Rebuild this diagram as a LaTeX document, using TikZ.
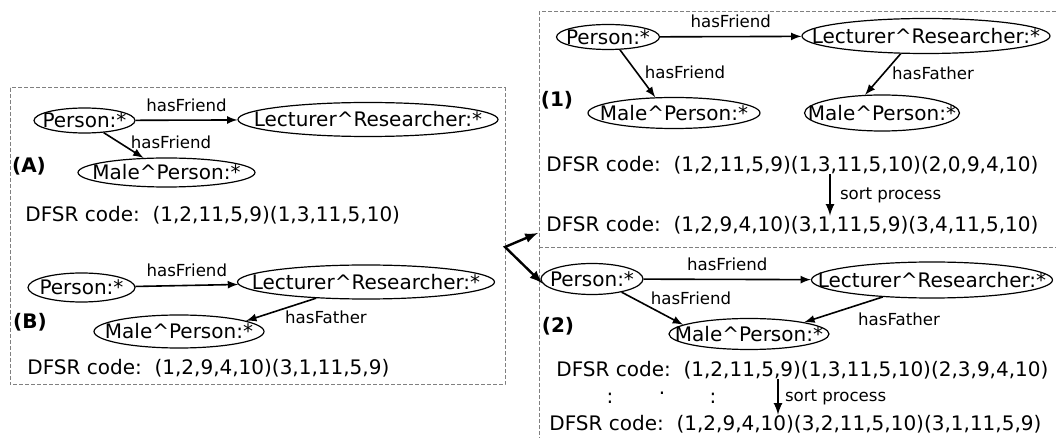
\documentclass[tikz,border=0pt]{standalone}
\usepackage{fontspec}
\setmainfont{DejaVu Sans}
\usetikzlibrary{shapes.geometric}
\newcommand{\ovl}[1]{\makebox[0pt]{#1}}

\begin{document}
\begin{tikzpicture}[
    x=0.5pt, y=-0.5pt,
    frame/.style = {draw=gray, dash pattern=on 2pt off 1pt, line width=0.5pt},
    oval/.style 2 args = {ellipse, draw, line width=0.6pt, inner sep=0pt,
minimum width=#1, minimum height=#2, font=\fontsize{10}{12}\selectfont},
    edge/.style = {-latex, line width=0.8pt},
    lbl/.style = {font=\fontsize{8.3}{10}\selectfont, inner sep=0pt},
    code/.style = {anchor=west, inner sep=0pt, font=\fontsize{10}{12}\selectfont},
    tag/.style = {inner sep=0pt, font=\bfseries\fontsize{10}{12}\selectfont},
    dots/.style = {inner sep=0pt, font=\fontsize{10}{12}\selectfont}
]
  \useasboundingbox (0,0) rectangle (1056,438);

  \draw[frame] (10,88) rectangle (505,385);
  \draw[frame] (1056,12) -- (539,12) -- (539,438);
  \draw[frame] (539,248) -- (1056,248);

  \node (pa) [oval={50.5pt}{12.5pt}] at (84.5,120.5) {\ovl{Person:*}};
  \node (la) [oval={130pt}{17pt}] at (368,119.5) {\ovl{Lecturer\textasciicircum Researcher:*}};
  \node (ma) [oval={88.5pt}{14.5pt}] at (166.5,172.5) {\ovl{Male\textasciicircum Person:*}};
  \node (tA) [tag] at (29,166) {(A)};
  \node (cA) [code] at (25,215) {DFSR code:~~(1,2,11,5,9)(1,3,11,5,10)};

  \draw[edge] (pa) -- (la) node[lbl, midway, above=4pt] {hasFriend};
  \draw[edge] (pa) -- (ma);
  \node (fA) [lbl] at (171,142) {hasFriend};

  \node (pb) [oval={53.5pt}{14.5pt}] at (81.5,287.5) {\ovl{Person:*}};
  \node (lb) [oval={128.5pt}{17pt}] at (366,282) {\ovl{Lecturer\textasciicircum Researcher:*}};
  \node (mb) [oval={85pt}{16.5pt}] at (179,331.5) {\ovl{Male\textasciicircum Person:*}};
  \node (tB) [tag] at (30,322.5) {(B)};
  \node (cB) [code] at (27,368) {DFSR code:~~(1,2,9,4,10)(3,1,11,5,9)};

  \draw[edge] (pb) -- (lb) node[lbl, midway, above=4pt] {hasFriend};
  \draw[edge] (lb.198) -- (mb.9);
  \node (hB) [lbl] at (326,317.5) {hasFather};

  \node (pc) [oval={51.5pt}{12.5pt}] at (608,37) {\ovl{Person:*}};
  \node (lc) [oval={124pt}{17.5pt}] at (926,36) {\ovl{Lecturer\textasciicircum Researcher:*}};
  \node (mc) [oval={86pt}{15.5pt}] at (674,113) {\ovl{Male\textasciicircum Person:*}};
  \node (nc) [oval={77.5pt}{18pt}] at (882,113) {\ovl{Male\textasciicircum Person:*}};
  \node (t1) [tag] at (557,100) {(1)};
  \node (c1) [code] at (546,165) {DFSR code:~~(1,2,11,5,9)(1,3,11,5,10)(2,0,9,4,10)};
  \node (c2) [code] at (546,225) {DFSR code:~~(1,2,9,4,10)(3,1,11,5,9)(3,4,11,5,10)};

  \draw[edge] (pc) -- (lc) node[lbl, midway, above=4pt] {hasFriend};
  \draw[edge] (pc.313) -- (mc.140);
  \draw[edge] (lc.215) -- (nc.133);
  \node (f1) [lbl] at (685,72) {hasFriend};
  \node (h1) [lbl] at (933,73) {hasFather};
  \coordinate (s1) at (830,0);
  \draw[-latex, line width=1pt] (c1.south -| s1) -- (c2.north -| s1)
    node[lbl, midway, right=4.5pt] {sort process};

  \node (pd) [oval={51pt}{15.5pt}] at (592,279) {\ovl{Person:*}};
  \node (ld) [oval={120.5pt}{18pt}] at (932,280) {\ovl{Lecturer\textasciicircum Researcher:*}};
  \node (md) [oval={80pt}{15.5pt}] at (749,334) {\ovl{Male\textasciicircum Person:*}};
  \node (t2) [tag] at (558,326) {(2)};
  \node (c3) [code] at (556,370) {DFSR code:~~(1,2,11,5,9)(1,3,11,5,10)(2,3,9,4,10)};
  \node (c4) [code] at (549,424) {DFSR code:~~(1,2,9,4,10)(3,2,11,5,10)(3,1,11,5,9)};

  \draw[edge] (pd) -- (ld) node[lbl, midway, above=4pt] {hasFriend};
  \draw[edge] (pd.336) -- (md.172);
  \draw[edge] (ld.199) -- (md.12);
  \node (f2) [lbl] at (691,298) {hasFriend};
  \node (h2) [lbl] at (899,319) {hasFather};
  \coordinate (s2) at (778,0);
  \draw[-latex, line width=1pt] (c3.south -| s2) -- (c4.north -| s2)
    node[lbl, midway, right=3pt] {sort process};
  \node (v1) [dots] at (610,398) {:};
  \node (v2) [dots] at (662,393) {.};
  \node (v3) [dots] at (713,398) {:};

  \coordinate (fork) at (505,247);
  \coordinate (up) at (538,233);
  \draw[latex-latex, line width=1.2pt] (up) -- (fork) -- (pd.185);

\end{tikzpicture}
\end{document}
